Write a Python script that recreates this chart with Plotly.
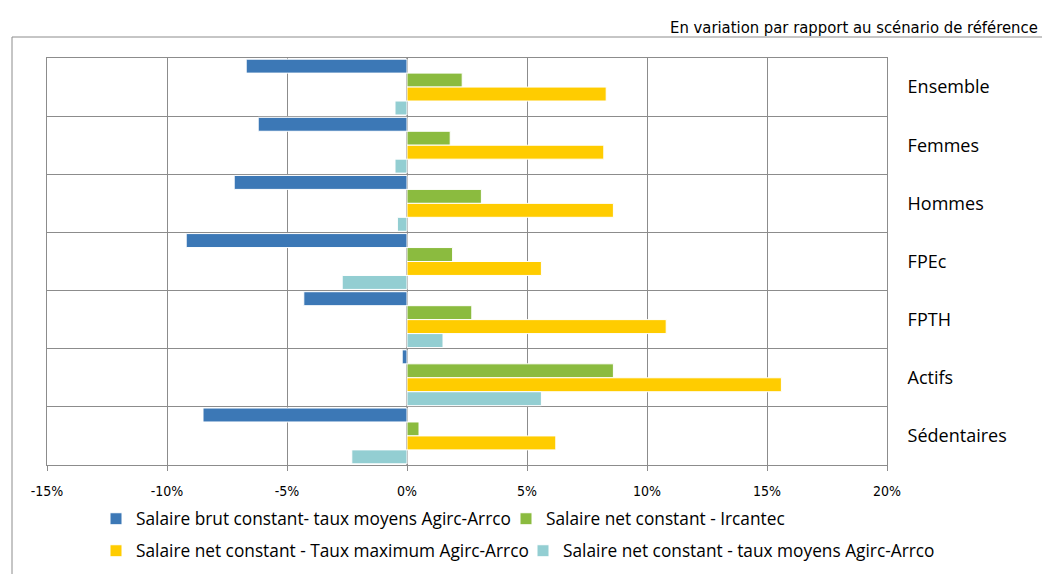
import plotly.graph_objects as go

# categories, top to bottom
categories = ["Ensemble", "Femmes", "Hommes", "FPEc", "FPTH", "Actifs", "Sédentaires"]

# values in % (variation vs reference scenario)
brut_moyens = [-6.7, -6.2, -7.2, -9.2, -4.3, -0.2, -8.5]
net_ircantec = [2.3, 1.8, 3.1, 1.9, 2.7, 8.6, 0.5]
net_max_agirc = [8.3, 8.2, 8.6, 5.6, 10.8, 15.6, 6.2]
net_moyens = [-0.5, -0.5, -0.4, -2.7, 1.5, 5.6, -2.3]

series_names = [
    "Salaire brut constant- taux moyens Agirc-Arrco",
    "Salaire net constant - Ircantec",
    "Salaire net constant - Taux maximum Agirc-Arrco",
    "Salaire net constant - taux moyens Agirc-Arrco",
]
series_values = [brut_moyens, net_ircantec, net_max_agirc, net_moyens]
colors = ["#3C78B6", "#8BBB3F", "#FFCC00", "#93CED2"]

x_ticks = [-15, -10, -5, 0, 5, 10, 15, 20]
x_ticklabels = [f"{v}%" for v in x_ticks]

NARROW = "Liberation Sans Narrow, DejaVu Sans Condensed, Arial Narrow, sans-serif"
BODY = "Open Sans, Lato, sans-serif"

# the page puts the figure 8px in from the window corner
OX, OY = 8, 8
W, H = 1050 - OX, 574 - OY
# plot area in window pixels
L, R, T, B = 47, 887, 58, 465
pw, ph = R - L, B - T


def px(x):
    return (x - L) / pw


def py(y):
    return (B - y) / ph


# one legend per entry so the two-row layout matches the original
legend_ids = ["legend", "legend2", "legend3", "legend4"]
legend_pos = [(96, 519), (506, 519), (96, 551), (523, 551)]

fig = go.Figure()
for name, vals, color, leg in zip(series_names, series_values, colors, legend_ids):
    fig.add_trace(go.Bar(
        y=categories, x=vals, name=name, orientation="h", legend=leg,
        marker=dict(color=color, line=dict(color="white", width=1))))

legends = {}
for leg, (lx, ly) in zip(legend_ids, legend_pos):
    legends[leg] = dict(orientation="h", x=px(lx), y=py(ly), xanchor="left",
                        yanchor="middle", bgcolor="rgba(0,0,0,0)", itemclick=False,
                        font=dict(family=BODY, size=17.3, color="#000"))

fig.update_layout(
    width=W, height=H,
    margin=dict(l=L - OX, r=1050 - R, t=T - OY, b=574 - B, autoexpand=False),
    paper_bgcolor="white", plot_bgcolor="white",
    barmode="group", bargap=0.04, bargroupgap=0,
    xaxis=dict(range=[-15, 20], tickvals=x_ticks, ticktext=x_ticklabels,
               showgrid=True, gridcolor="#8c8c8c", gridwidth=1,
               zeroline=True, zerolinecolor="#8c8c8c", zerolinewidth=2,
               ticks="outside", ticklen=5, tickcolor="#8c8c8c",
               ticklabelstandoff=8,
               showline=True, linecolor="#8c8c8c", mirror=True,
               tickfont=dict(family=NARROW, size=14, color="#000")),
    yaxis=dict(categoryorder="array", categoryarray=categories,
               autorange="reversed", side="right",
               tickson="boundaries", showgrid=True, gridcolor="#8c8c8c",
               gridwidth=1, ticks="", ticklabelstandoff=16,
               showline=True, linecolor="#8c8c8c", mirror=True,
               tickfont=dict(family=BODY, size=18, color="#000")),
    showlegend=True,
    **legends,
)

# outer chart frame
fig.add_shape(type="rect", xref="paper", yref="paper",
              x0=px(12), x1=px(1080), y0=py(600), y1=py(37),
              line=dict(color="#8c8c8c", width=1), fillcolor="rgba(0,0,0,0)",
              layer="below")

fig.add_annotation(text="En variation par rapport au scénario de référence",
                   xref="paper", yref="paper", x=px(1040), y=py(27),
                   xanchor="right", yanchor="middle", showarrow=False,
                   font=dict(family=NARROW, size=16.5, color="#000"))

fig.write_html("out.html")
